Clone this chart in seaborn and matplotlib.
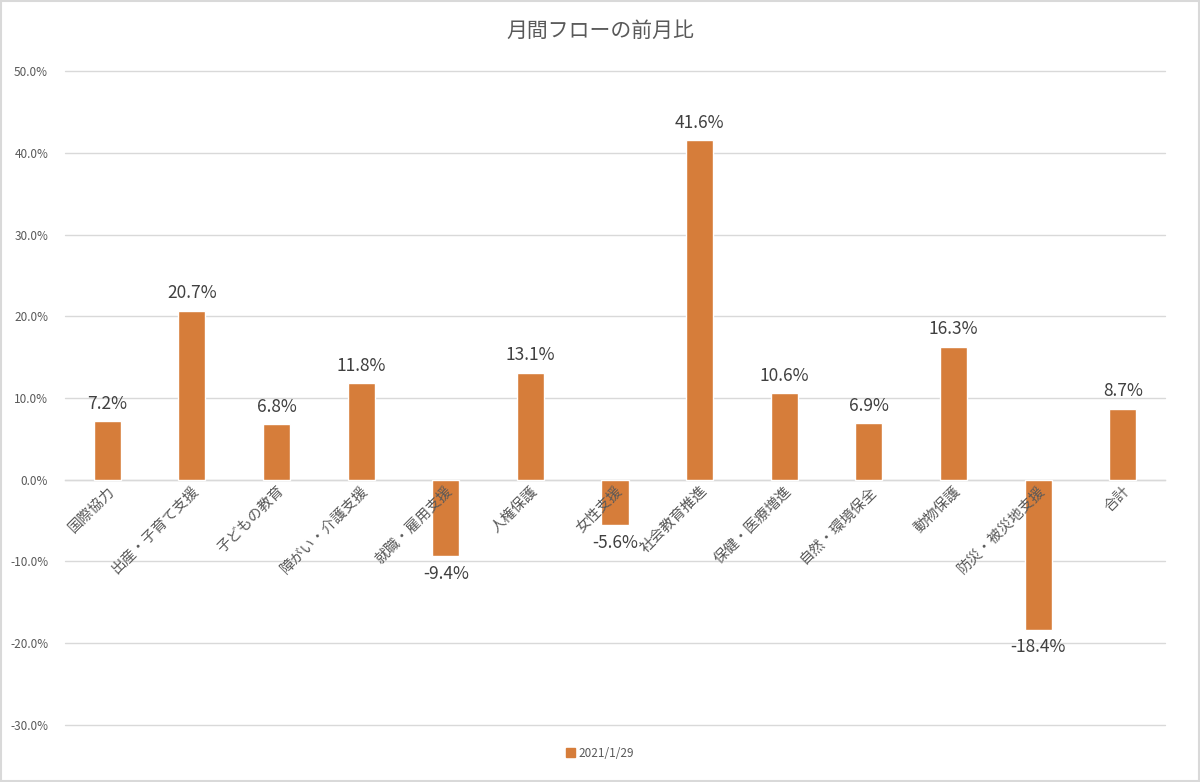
import matplotlib
matplotlib.use("Agg")
import matplotlib.pyplot as plt
import seaborn as sns
import pandas as pd
from matplotlib.ticker import FuncFormatter, FixedLocator
from matplotlib.patches import Rectangle

categories = ["国際協力", "出産・子育て支援", "子どもの教育", "障がい・介護支援", "就職・雇用支援",
              "人権保護", "女性支援", "社会教育推進", "保健・医療増進", "自然・環境保全",
              "動物保護", "防災・被災地支援", "合計"]
values = [7.2, 20.7, 6.8, 11.8, -9.4, 13.1, -5.6, 41.6, 10.6, 6.9, 16.3, -18.4, 8.7]
series_name = "2021/1/29"
title = "月間フローの前月比"

sns.set_theme(style="white")
plt.rcParams['font.family'] = ['Noto Sans CJK JP', 'DejaVu Sans']

BAR = "#D67D3A"
TXT = "#595959"

df = pd.DataFrame({"cat": categories, "val": values})

fig = plt.figure(figsize=(12, 7.82), dpi=100)
ax = fig.add_axes([0.054, 0.0723, 0.917, 0.8375])
sns.barplot(data=df, x="cat", y="val", color=BAR, width=0.32, ax=ax, saturation=1)

ax.set_ylim(-30.1, 50.1)
ax.set_xlim(-0.5, len(categories) - 0.5)
ax.yaxis.set_major_locator(FixedLocator(list(range(-30, 51, 10))))
ax.yaxis.set_major_formatter(FuncFormatter(lambda v, p: f"{v:.1f}%"))
ax.grid(axis="y", color="#D9D9D9", linewidth=1)
ax.set_axisbelow(True)
ax.xaxis.set_zorder(5)
for s in ["top", "right", "left"]:
    ax.spines[s].set_visible(False)
ax.spines["bottom"].set_position(("data", 0))
ax.spines["bottom"].set_color("#D9D9D9")
ax.spines["bottom"].set_linewidth(1)
ax.spines["bottom"].set_zorder(0.6)
ax.set_xlabel("")
ax.set_ylabel("")
ax.tick_params(axis="y", labelsize=8.5, colors=TXT, length=0, pad=12)
ax.tick_params(axis="x", length=0, labelsize=10.5, colors=TXT, pad=3)
for lbl in ax.get_xticklabels():
    lbl.set_rotation(45)
    lbl.set_ha("right")
    lbl.set_rotation_mode("anchor")
for gl in ax.get_ygridlines():
    gl.set_clip_on(False)

# minor ticks at category boundaries
ax.set_xticks([i - 0.5 for i in range(len(categories) + 1)], minor=True)
ax.tick_params(axis="x", which="minor", length=5, color="#D9D9D9", direction="out")

for i, v in enumerate(values):
    if v >= 0:
        ax.annotate(f"{v:.1f}%", (i, v), xytext=(0, 6), textcoords="offset points",
                    ha="center", va="bottom", fontsize=12.5, color="#404040")
    else:
        ax.annotate(f"{v:.1f}%", (i, v), xytext=(0, -6), textcoords="offset points",
                    ha="center", va="top", fontsize=12.5, color="#404040")

fig.text(0.5, 0.96, title, ha="center", va="center", fontsize=15, color=TXT)

handle = Rectangle((0, 0), 1, 1, color=BAR)
fig.legend([handle], [series_name], loc="center", bbox_to_anchor=(0.5, 0.037),
           frameon=False, fontsize=8.5, labelcolor=TXT, handlelength=0.7, handleheight=0.7,
           handletextpad=0.3)

fig.patches.append(Rectangle((0.001, 0.001), 0.998, 0.998, transform=fig.transFigure,
                             fill=False, edgecolor="#D9D9D9", linewidth=1.5))

fig.savefig("out.png", dpi=100, facecolor="white")
